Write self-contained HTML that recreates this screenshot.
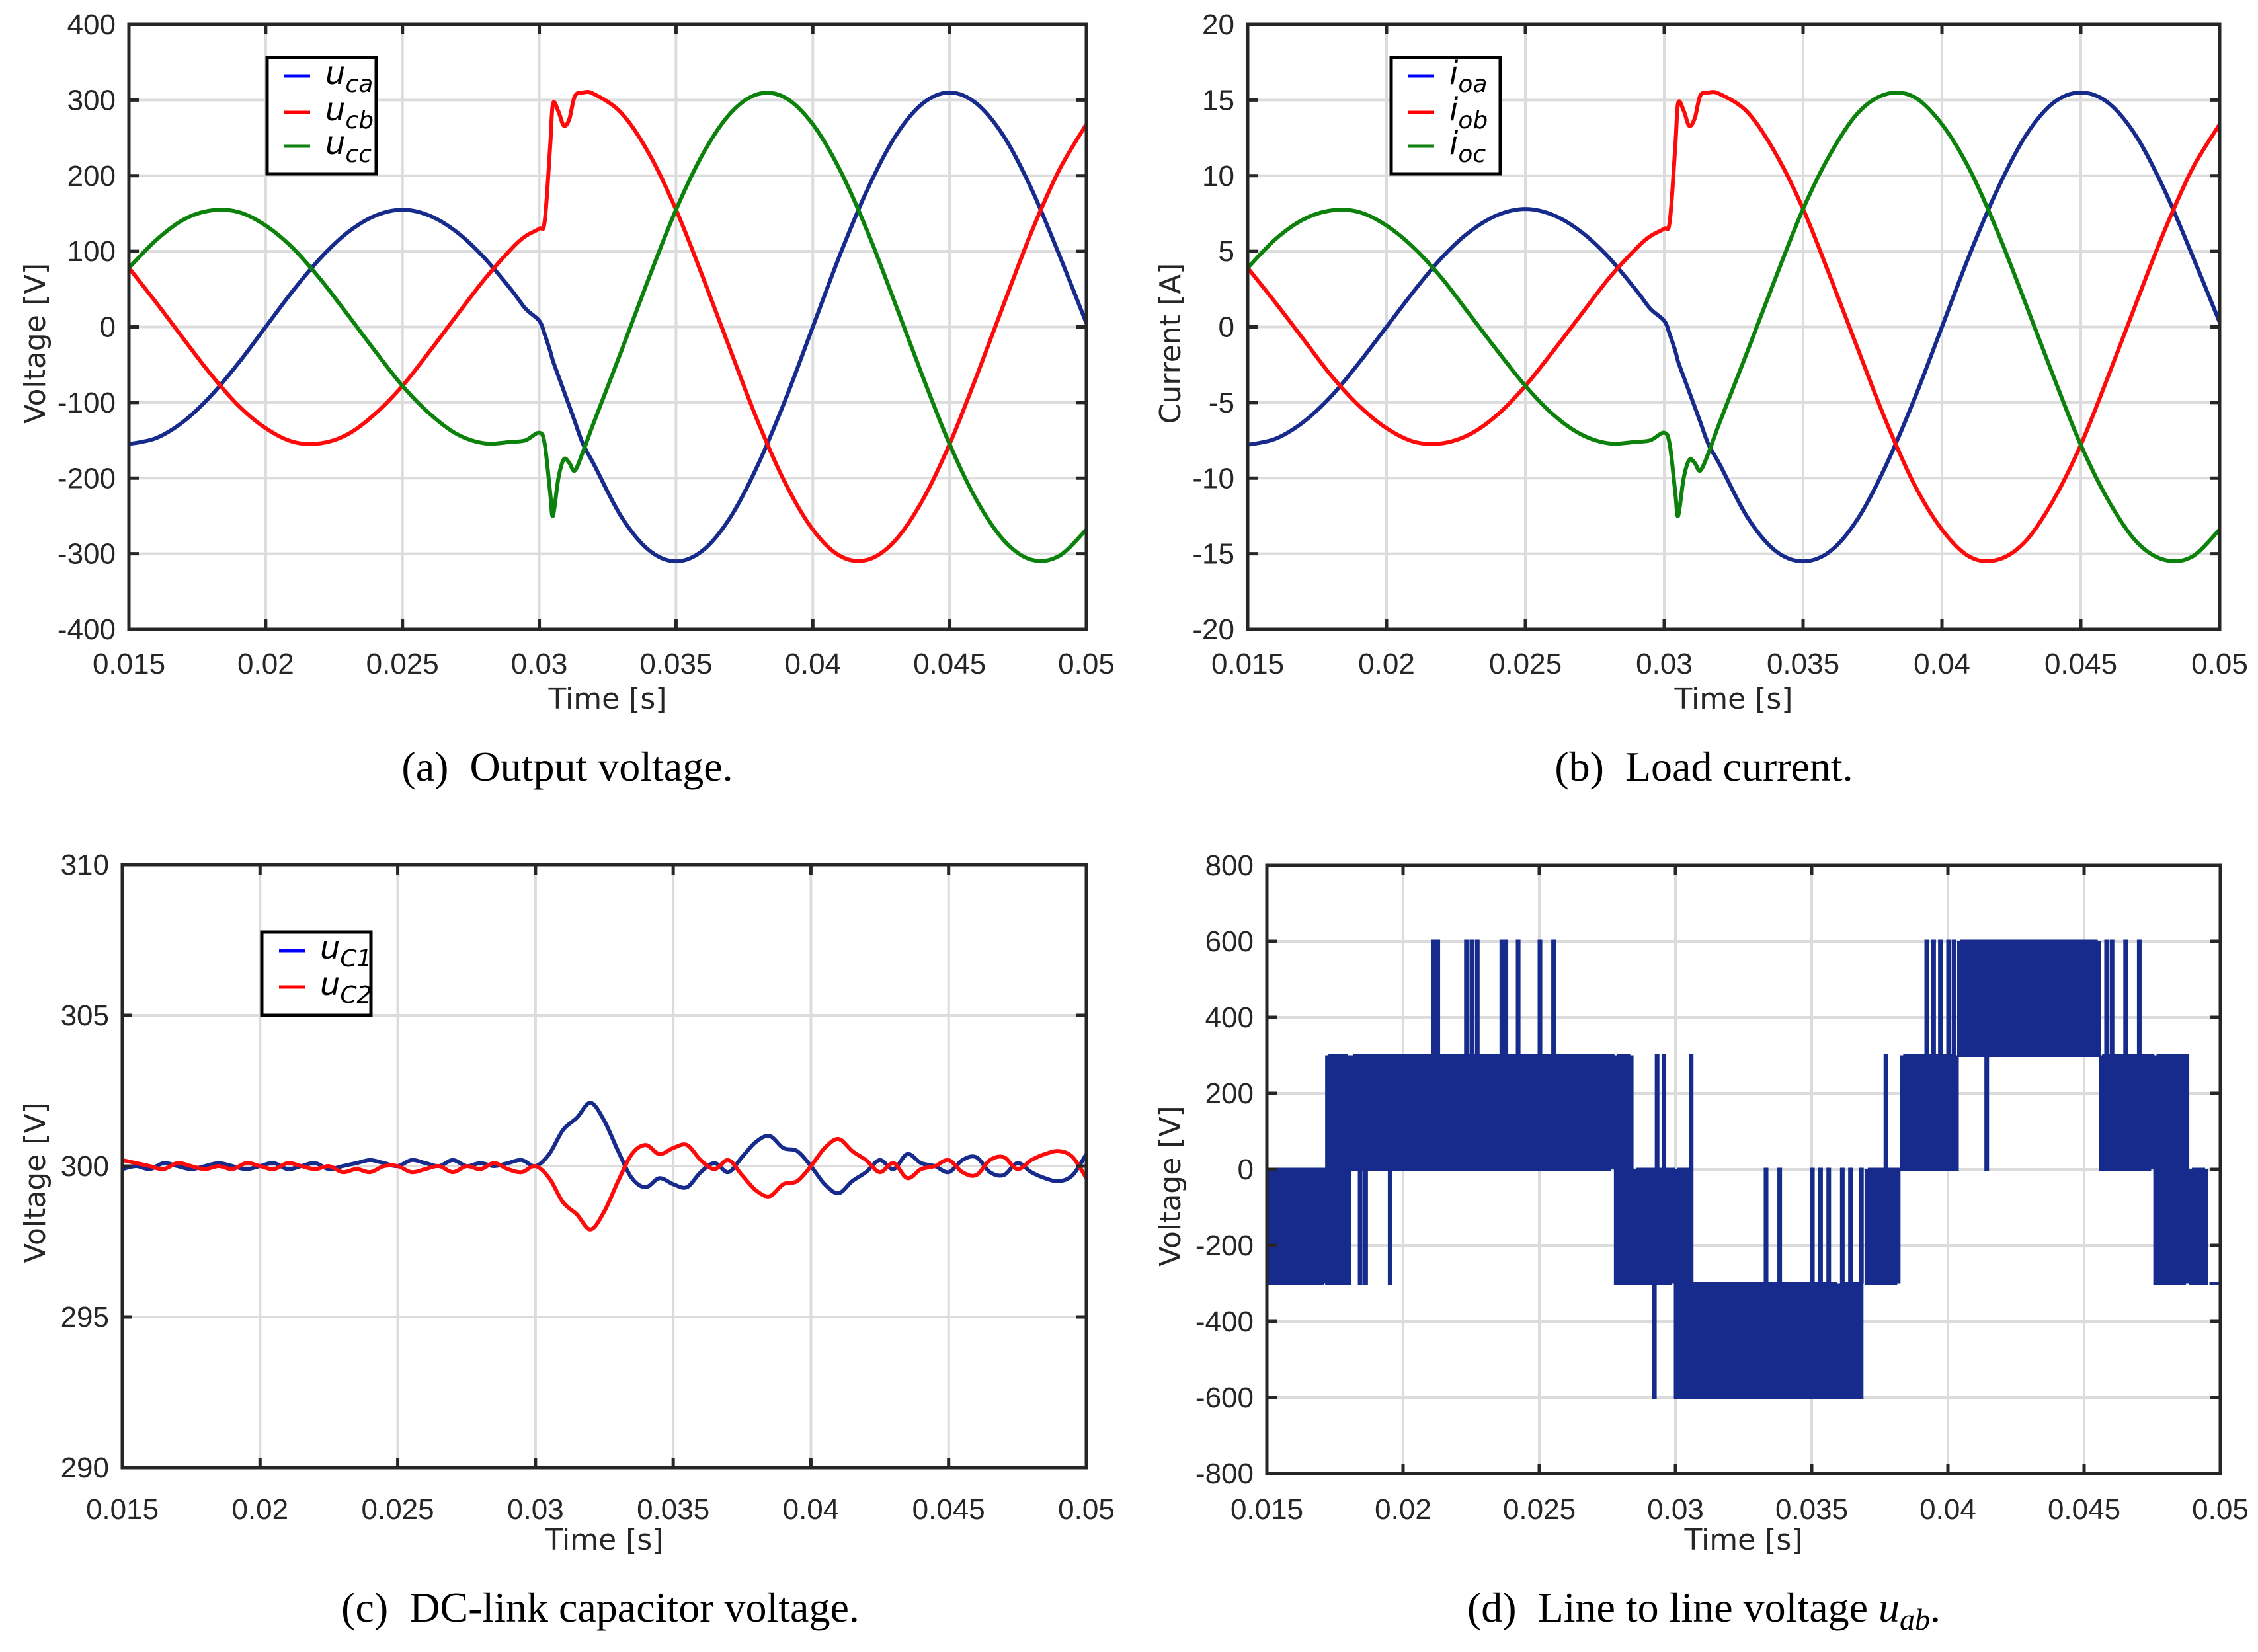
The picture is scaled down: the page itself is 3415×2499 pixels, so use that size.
<!DOCTYPE html>
<html><head><meta charset="utf-8">
<style>
html,body{margin:0;padding:0;background:#fff;}
svg{display:block;}
.tick{font-family:"Liberation Sans Narrow","Liberation Sans",sans-serif;font-size:44px;fill:#262626;}
.axlab{font-family:"DejaVu Sans","Liberation Sans",sans-serif;font-size:44px;fill:#262626;}
.cap{font-family:"Liberation Serif","DejaVu Serif",serif;font-size:64px;fill:#000;}
.leg{font-family:"DejaVu Sans","Liberation Sans",sans-serif;font-style:italic;font-size:48px;fill:#000;}
</style></head>
<body>
<svg id="fig" width="3415" height="2499" viewBox="0 0 3415 2499" xmlns="http://www.w3.org/2000/svg">
<rect width="3415" height="2499" fill="#fff"/>
<g id="layer"></g>
</svg>
<script>
// ---- Panel (a)/(b) time base in ms ----
const tAB = [15,16,17,18,19,20,21,22,23,24,25,26,27,28,29,29.5,30,30.2,30.4,30.5,30.7,30.9,31.1,31.3,31.6,32,33,34,35,36,37,38,39,40,41,42,43,44,45,46,47,48,49,50];
const uca = [-155,-147,-125,-91,-48,0,48,91,125,147,155,147,125,91,48,24,8,-10,-32,-45,-65,-85,-105,-125,-155,-182,-251,-295,-310,-295,-251,-182,-96,0,96,182,251,295,310,295,251,182,96,5];
const ucb = [78,32,-16,-63,-104,-134,-152,-154,-142,-115,-78,-32,16,63,104,120,130,140,240,295,285,266,275,305,310,308,283,230,155,64,-32,-126,-207,-268,-303,-308,-283,-230,-155,-64,32,126,207,268];
const ucc = [78,115,142,154,152,134,104,63,16,-32,-78,-115,-142,-154,-152,-150,-140,-155,-220,-250,-200,-175,-180,-190,-165,-126,-32,64,155,230,283,308,303,268,207,126,32,-64,-155,-230,-283,-308,-303,-268];
const ioa = [-7.8,-7.4,-6.3,-4.6,-2.4,0,2.4,4.6,6.3,7.4,7.8,7.4,6.3,4.6,2.4,1.2,0.4,-0.5,-1.6,-2.3,-3.3,-4.3,-5.3,-6.3,-7.8,-9.1,-12.6,-14.8,-15.5,-14.8,-12.6,-9.1,-4.8,0,4.8,9.1,12.6,14.8,15.5,14.8,12.6,9.1,4.8,0.3];
const iob = [3.9,1.6,-0.8,-3.2,-5.2,-6.7,-7.6,-7.7,-7.1,-5.8,-3.9,-1.6,0.8,3.2,5.2,6.0,6.5,7.0,12.0,14.8,14.3,13.3,13.8,15.3,15.5,15.4,14.2,11.5,7.8,3.2,-1.6,-6.3,-10.4,-13.4,-15.2,-15.4,-14.2,-11.5,-7.8,-3.2,1.6,6.3,10.4,13.4];
const ioc = [3.9,5.8,7.1,7.7,7.6,6.7,5.2,3.2,0.8,-1.6,-3.9,-5.8,-7.1,-7.7,-7.6,-7.5,-7.0,-7.8,-11.0,-12.5,-10.0,-8.8,-9.0,-9.5,-8.3,-6.3,-1.6,3.2,7.8,11.5,14.2,15.4,15.2,13.4,10.4,6.3,1.6,-3.2,-7.8,-11.5,-14.2,-15.4,-15.2,-13.4];
// ---- Panel (c) ----
const tC = [15,15.5,16,16.5,17,17.5,18,18.5,19,19.5,20,20.5,21,21.5,22,22.5,23,23.5,24,24.5,25,25.5,26,26.5,27,27.5,28,28.5,29,29.5,30,30.5,31,31.5,32,32.5,33,33.5,34,34.5,35,35.5,36,36.5,37,37.5,38,38.5,39,39.5,40,40.5,41,41.5,42,42.5,43,43.5,44,44.5,45,45.5,46,46.5,47,47.5,48,48.5,49,49.5,50];
const uC1 = [299.9,300.0,299.9,300.1,300.0,299.9,300.0,300.1,300.0,299.9,300.0,300.1,299.9,300.0,300.1,299.9,300.0,300.1,300.2,300.1,300.0,300.2,300.1,300.0,300.2,300.0,300.1,300.0,300.1,300.2,300.0,
 300.4,301.2,301.6,302.1,301.5,300.5,299.6,299.3,299.6,299.4,299.3,299.8,300.1,299.8,300.3,300.8,301.0,300.6,300.5,300.0,299.4,299.1,299.5,299.8,300.2,299.9,300.4,300.1,300.0,299.8,300.2,300.3,299.8,299.7,300.1,299.8,299.6,299.5,299.7,300.4];
const uC2 = [300.2,300.1,300.0,299.9,300.1,300.0,299.9,300.0,299.9,300.1,300.0,299.9,300.1,300.0,299.9,300.0,299.8,299.9,299.8,300.0,300.0,299.8,299.9,300.0,299.8,300.0,299.9,300.1,299.9,299.8,300.0,
 299.6,298.8,298.4,297.9,298.5,299.5,300.4,300.7,300.4,300.6,300.7,300.2,299.9,300.2,299.7,299.2,299.0,299.4,299.5,300.0,300.6,300.9,300.5,300.2,299.8,300.1,299.6,299.9,300.0,300.2,299.8,299.7,300.2,300.3,299.9,300.2,300.4,300.5,300.3,299.6];
// ---- Panel (d) PWM bands (ms, V) ----
const bandStart = [15.0,17.2,18.1,27.8,28.5,30.0,30.6,36.0,37.0,38.3,40.4,45.6,47.6,48.9,49.6];
const bandEnd   = [17.2,18.1,27.8,28.5,30.0,30.6,36.0,36.9,38.3,40.4,45.6,47.6,48.9,49.6,50.0];
const bandLow   = [-300,-300,0,-300,-300,-600,-600,-600,-300,0,300,0,-300,-300,-300];
const bandHigh  = [0,300,300,300,0,0,-300,-300,0,300,600,300,300,0,-300];
const spikeT = [21.1,21.25,22.3,22.5,22.7,23.6,23.75,24.2,25.0,25.5,39.2,39.45,39.7,40.0,40.2,45.8,46.0,46.5,47.0,18.4,18.6,19.5,29.3,29.55,30.55,37.7,33.3,33.8,35.0,35.3,35.6,36.1,36.4,36.8,29.2,41.4];
const spikeV = [600,600,600,600,600,600,600,600,600,600,600,600,600,600,600,600,600,600,600,-300,-300,-300,300,300,300,300,0,0,0,0,0,0,0,0,-600,0];
const xTicks = [0.015,0.02,0.025,0.03,0.035,0.04,0.045,0.05];

const NS="http://www.w3.org/2000/svg";
const layer=document.getElementById('layer');
function mk(tag,attrs,parent){const e=document.createElementNS(NS,tag);for(const k in attrs)e.setAttribute(k,attrs[k]);(parent||layer).appendChild(e);return e;}

function panel(p){
  const g=mk('g',{});
  
  
  p.sx=t=>p.x0+(t-15)/35*(p.x1-p.x0);
  p.sy=v=>p.y1-(v-p.ymin)/(p.ymax-p.ymin)*(p.y1-p.y0);
  p.g=g;
  for(const xt of xTicks){const x=p.sx(xt*1000);
    const l=mk('line',{x1:x,x2:x,y1:p.y0,y2:p.y1,stroke:'#dcdcdc','stroke-width':4},g);
    }
  for(let v=p.ymin;v<=p.ymax+1e-9;v+=p.ystep){const y=p.sy(v);
    const l=mk('line',{x1:p.x0,x2:p.x1,y1:y,y2:y,stroke:'#dcdcdc','stroke-width':4},g);
    }
  return g;
}
function axes(p){
  const g=p.g;
  const b=mk('rect',{x:p.x0,y:p.y0,width:p.x1-p.x0,height:p.y1-p.y0,fill:'none',stroke:'#262626','stroke-width':5},g);
  
  for(const xt of xTicks){const x=p.sx(xt*1000);
    mk('line',{x1:x,x2:x,y1:p.y1,y2:p.y1-15,stroke:'#262626','stroke-width':5},g);
    mk('line',{x1:x,x2:x,y1:p.y0,y2:p.y0+15,stroke:'#262626','stroke-width':5},g);
    const t=mk('text',{x:x,y:p.tickY,'text-anchor':'middle',class:'tick'},g);
    t.textContent=String(xt);
    }
  for(let v=p.ymin;v<=p.ymax+1e-9;v+=p.ystep){const y=p.sy(v);
    mk('line',{x1:p.x0,x2:p.x0+15,y1:y,y2:y,stroke:'#262626','stroke-width':5},g);
    mk('line',{x1:p.x1,x2:p.x1-15,y1:y,y2:y,stroke:'#262626','stroke-width':5},g);
    const t=mk('text',{x:p.x0-20,y:y+15,'text-anchor':'end',class:'tick'},g);
    t.textContent=String(Math.round(v));
    }
  const xl=mk('text',{x:(p.x0+p.x1)/2,y:p.xlabY,'text-anchor':'middle',class:'axlab'},g);
  xl.textContent='Time [s]';
  
  const cy=(p.y0+p.y1)/2+25;
  const yl=mk('text',{x:p.ylabX,y:cy,'text-anchor':'middle',class:'axlab',transform:`rotate(-90 ${p.ylabX} ${cy})`,dy:'16'},g);
  yl.textContent=p.ylab;
  
  const cp=mk('text',{x:p.capX,y:p.capY,'text-anchor':'middle',class:'cap'},g);
  cp.innerHTML=p.cap;
  
}
function series(p,ts,vs,color,name){
  const pts=ts.map((t,i)=>[p.sx(t),p.sy(vs[i])]);
  let d='M'+pts[0][0]+' '+pts[0][1];
  for(let i=0;i<pts.length-1;i++){
    const p0=pts[Math.max(0,i-1)],p1=pts[i],p2=pts[i+1],p3=pts[Math.min(pts.length-1,i+2)];
    const c1=[p1[0]+(p2[0]-p0[0])/6,p1[1]+(p2[1]-p0[1])/6];
    const c2=[p2[0]-(p3[0]-p1[0])/6,p2[1]-(p3[1]-p1[1])/6];
    d+=` C${c1[0]} ${c1[1]} ${c2[0]} ${c2[1]} ${p2[0]} ${p2[1]}`;
  }
  const e=mk('path',{d:d,fill:'none',stroke:color,'stroke-width':6,'stroke-linejoin':'round'},p.g);
  
  
}
function legend(p,x,y,w,h,rows){
  const g=mk('g',{},p.g);
  
  
  mk('rect',{x:x,y:y,width:w,height:h,fill:'#fff',stroke:'#000','stroke-width':5},g);
  rows.forEach(r=>{
    const e=mk('g',{},g);
    
    
    mk('line',{x1:x+26,x2:x+65,y1:r.y,y2:r.y,stroke:r.c,'stroke-width':5},e);
    const t=mk('text',{x:x+88,y:r.y+12,class:'leg'},e);
    t.innerHTML=`${r.m}<tspan font-size="36" dy="12">${r.s}</tspan>`;
  });
}

const BLUE='#172b8c',RED='#ff0a0a',GREEN='#0c820c';
const A={name:'panel-output-voltage',x0:195,x1:1643,y0:37,y1:952,ymin:-400,ymax:400,ystep:100,tickY:1019,xlabY:1072,ylabX:52,ylab:'Voltage [V]',capX:858,capY:1181,cap:'(a)&#8194;Output voltage.'};
panel(A);
series(A,tAB,uca,BLUE,'series-uca');series(A,tAB,ucb,RED,'series-ucb');series(A,tAB,ucc,GREEN,'series-ucc');
axes(A);
legend(A,404,87,165,176,[{y:115,c:'#0000ff',m:'u',s:'ca'},{y:170,c:'#ff0000',m:'u',s:'cb'},{y:221,c:'#108010',m:'u',s:'cc'}]);
const B={name:'panel-load-current',x0:1887,x1:3357,y0:37,y1:952,ymin:-20,ymax:20,ystep:5,tickY:1019,xlabY:1072,ylabX:1769,ylab:'Current [A]',capX:2577,capY:1181,cap:'(b)&#8194;Load current.'};
panel(B);
series(B,tAB,ioa,BLUE,'series-ioa');series(B,tAB,iob,RED,'series-iob');series(B,tAB,ioc,GREEN,'series-ioc');
axes(B);
legend(B,2104,87,165,176,[{y:115,c:'#0000ff',m:'i',s:'oa'},{y:170,c:'#ff0000',m:'i',s:'ob'},{y:221,c:'#108010',m:'i',s:'oc'}]);
const C={name:'panel-dc-link-voltage',x0:185,x1:1643,y0:1308,y1:2220,ymin:290,ymax:310,ystep:5,tickY:2298,xlabY:2344,ylabX:52,ylab:'Voltage [V]',capX:908,capY:2453,cap:'(c)&#8194;DC-link capacitor voltage.'};
panel(C);
series(C,tC,uC1,BLUE,'series-uc1');series(C,tC,uC2,RED,'series-uc2');
axes(C);
legend(C,396,1410,165,126,[{y:1438,c:'#0000ff',m:'u',s:'C1'},{y:1493,c:'#ff0000',m:'u',s:'C2'}]);
const D={name:'panel-line-voltage',x0:1916,x1:3358,y0:1309,y1:2229,ymin:-800,ymax:800,ystep:200,tickY:2298,xlabY:2344,ylabX:1769,ylab:'Voltage [V]',capX:2577,capY:2453,cap:'(d)&#8194;Line to line voltage <tspan font-style="italic">u</tspan><tspan font-style="italic" font-size="46" dy="12">ab</tspan><tspan dy="-12">.</tspan>'};
panel(D);
(function(){
  let d='';
  for(let i=0;i<bandStart.length;i++){
    const dt=0.12;let hi=true;
    d+=`M${D.sx(bandStart[i])} ${D.sy(bandLow[i])}`;
    for(let t=bandStart[i];t<=bandEnd[i]+1e-9;t+=dt){
      const x=D.sx(t);
      d+=` L${x} ${D.sy(hi?bandHigh[i]:bandLow[i])}`;
      d+=` L${x} ${D.sy(hi?bandLow[i]:bandHigh[i])}`;
      hi=!hi;
    }
  }
  for(let j=0;j<spikeT.length;j++){
    const t=spikeT[j];const i=bandStart.findIndex((s,k)=>t>=s&&t<=bandEnd[k]);
    const base=i<0?0:(Math.abs(spikeV[j]-bandLow[i])<Math.abs(spikeV[j]-bandHigh[i])?bandLow[i]:bandHigh[i]);
    d+=` M${D.sx(t)} ${D.sy(base)} L${D.sx(t)} ${D.sy(spikeV[j])} L${D.sx(t+0.05)} ${D.sy(spikeV[j])} L${D.sx(t+0.05)} ${D.sy(base)}`;
  }
  const e=mk('path',{d:d,fill:'none',stroke:'#162b8b','stroke-width':5},D.g);
  
  
})();
axes(D);
</script>
</body></html>
